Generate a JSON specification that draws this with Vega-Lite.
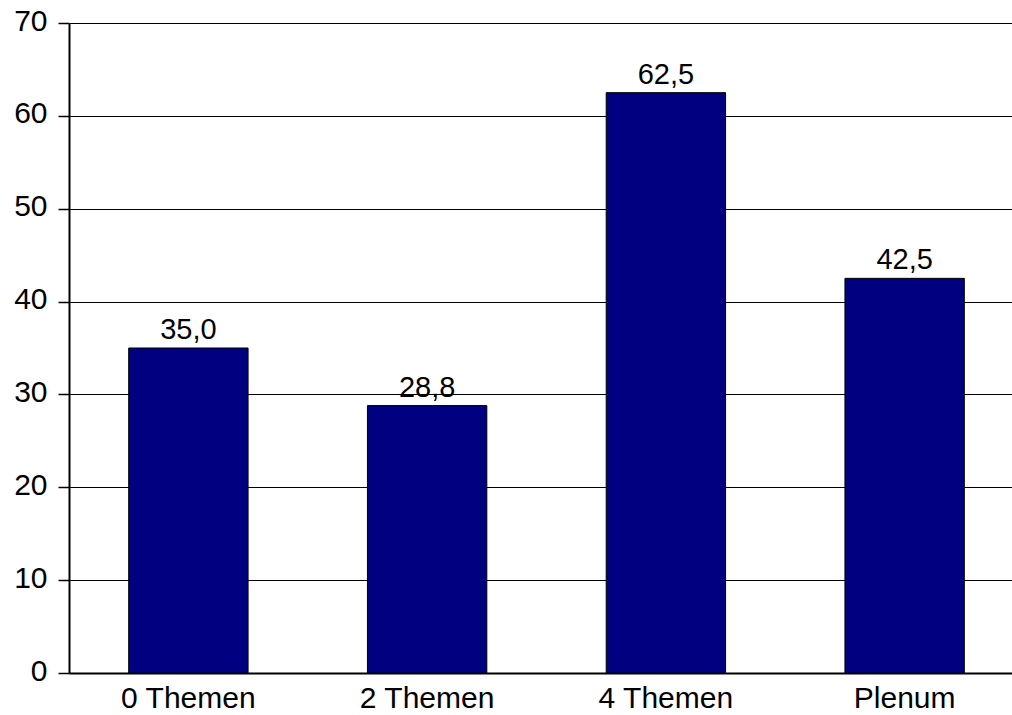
{
  "$schema": "https://vega.github.io/schema/vega-lite/v6.json",
  "autosize": {"type": "none"},
  "padding": {"left": 69, "top": 23, "right": 0, "bottom": 42},
  "width": 943,
  "height": 650,
  "background": "white",
  "config": {
    "locale": {"number": {"decimal": ",", "thousands": ".", "grouping": [3], "currency": ["", " €"]}},
    "view": {"stroke": null},
    "font": "Liberation Sans"
  },
  "data": {
    "values": [
      {"gruppe": "0 Themen", "wert": 35.0},
      {"gruppe": "2 Themen", "wert": 28.8},
      {"gruppe": "4 Themen", "wert": 62.5},
      {"gruppe": "Plenum", "wert": 42.5}
    ]
  },
  "encoding": {
    "x": {
      "field": "gruppe",
      "type": "nominal",
      "sort": null,
      "scale": {"range": [0, 955], "paddingInner": 0.5, "paddingOuter": 0.25},
      "axis": {
        "title": null,
        "labelAngle": 0,
        "labelFontSize": 30,
        "labelColor": "black",
        "labelPadding": 10,
        "ticks": false,
        "domain": true,
        "domainColor": "black",
        "domainWidth": 2,
        "grid": false
      }
    },
    "y": {
      "field": "wert",
      "type": "quantitative",
      "scale": {"domain": [0, 70], "nice": false},
      "axis": {
        "title": null,
        "values": [0, 10, 20, 30, 40, 50, 60, 70],
        "labelFontSize": 30,
        "labelColor": "black",
        "labelPadding": 11,
        "labelOffset": -2,
        "tickSize": 11,
        "tickColor": "black",
        "tickWidth": 1.5,
        "domainColor": "black",
        "domainWidth": 2,
        "grid": true,
        "gridColor": "black",
        "gridWidth": 1,
        "gridOpacity": 1
      }
    }
  },
  "layer": [
    {
      "mark": {"type": "bar", "color": "#000080", "stroke": "black", "strokeWidth": 1}
    },
    {
      "mark": {"type": "text", "baseline": "alphabetic", "dy": -9, "fontSize": 29, "color": "black"},
      "encoding": {
        "text": {"field": "wert", "type": "quantitative", "format": ".1f"}
      }
    }
  ]
}
